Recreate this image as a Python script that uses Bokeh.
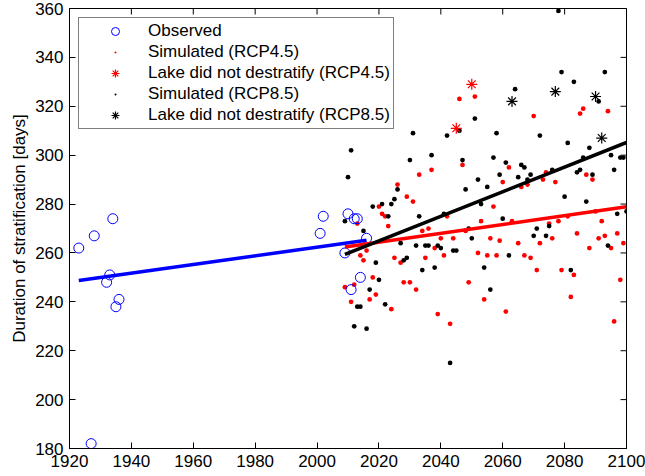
import math
from bokeh.plotting import figure
from bokeh.models import Range1d, FixedTicker, Legend, LegendItem
from bokeh.embed import file_html
from bokeh.resources import INLINE

# ---------------- data ----------------
obs_years = [1923, 1927, 1928, 1932, 1933, 1934, 1935, 1936, 2001, 2002,
             2009, 2010, 2011, 2012, 2013, 2014, 2016]
obs_days = [262, 182, 267, 248, 251, 274, 238, 241, 268, 275,
            260, 276, 245, 274, 274, 250, 266]

rcp45_years = [2009, 2011, 2012, 2013, 2014, 2015, 2016, 2017, 2018, 2019,
               2020, 2021, 2022, 2023, 2024, 2025, 2026, 2027, 2028, 2029,
               2030, 2031, 2032, 2033, 2034, 2035, 2036, 2037, 2038, 2039,
               2040, 2041, 2042, 2043, 2044,
               2046, 2047, 2048, 2049,
               2051, 2052, 2053, 2054, 2055, 2056, 2057, 2058, 2059, 2060,
               2061, 2062, 2063,
               2065, 2066, 2067, 2068, 2069, 2070, 2071, 2072, 2073, 2074,
               2075, 2076, 2077, 2078, 2079,
               2081, 2082, 2083, 2084, 2085, 2086, 2087, 2088, 2089, 2090,
               2091, 2092, 2093, 2094, 2095, 2096, 2097, 2098, 2099]
rcp45_days = [246, 240, 247, 272, 259, 257, 261, 241, 250, 243,
              279, 276, 275, 271, 237, 258, 288, 256, 248, 283,
              248, 281, 245, 292, 269, 258, 270, 294, 262, 235,
              266, 259, 275, 231, 266,
              323, 296, 269, 248,
              324, 260, 273, 241, 259, 266, 279, 259, 265, 289,
              236, 295, 273,
              264, 287, 259, 288, 258, 316, 253, 264, 290, 293,
              272, 266, 289, 273, 253,
              275, 242, 251, 268, 317, 319, 292, 262, 290, 277,
              266, 273, 267, 318, 262, 232, 268, 249, 264]

rcp45_nodestrat_years = [2045, 2050]
rcp45_nodestrat_days = [311, 329]

rcp85_years = [2009, 2010, 2011, 2012, 2013, 2014, 2015, 2016, 2017, 2018,
               2019, 2020, 2021, 2022, 2023, 2024, 2025, 2026, 2027, 2028,
               2029, 2030, 2031, 2032, 2033, 2034, 2035, 2036, 2037, 2038,
               2039, 2040, 2041, 2042, 2043, 2044, 2045, 2046, 2047, 2048,
               2049, 2050, 2051, 2052, 2053, 2054, 2055, 2056, 2057, 2058,
               2059, 2060, 2061, 2062,
               2064, 2065, 2066, 2067, 2068, 2069, 2070, 2071, 2072,
               2074, 2075, 2076,
               2078, 2079, 2080, 2081, 2082, 2083, 2084, 2085, 2086, 2087,
               2088, 2089,
               2091,
               2093, 2094, 2095, 2096, 2097, 2098, 2099, 2100]
rcp85_days = [273, 291, 302, 230, 238, 238, 269, 229, 245, 279,
              256, 249, 280, 239, 275, 280, 282, 286, 264, 257,
              258, 298, 309, 263, 275, 253, 263, 263, 300, 254,
              263, 262, 276, 308, 215, 261, 261, 310, 298, 286,
              270, 266, 315, 290, 280, 254, 287, 245, 299, 309,
              292, 274, 297, 259,
              327, 291, 296, 295, 290, 292, 267, 270, 308,
              267, 271, 294,
              359, 334, 283, 305, 253, 330, 293, 294, 299, 281,
              303, 292,
              322,
              334, 263, 300, 294, 276, 299, 299, 277]

rcp85_nodestrat_years = [2063, 2077, 2090, 2092]
rcp85_nodestrat_days = [322, 326, 324, 307]

# fitted trend lines (end points)
obs_trend_years = [1923, 2016]
obs_trend_days = [248.7, 265.2]
rcp45_trend_years = [2009, 2100]
rcp45_trend_days = [262.4, 278.9]
rcp85_trend_years = [2009, 2100]
rcp85_trend_days = [259.4, 305.2]

x_ticks = list(range(1920, 2101, 20))
y_ticks = list(range(180, 361, 20))
x_min, x_max = 1920, 2100
y_min, y_max = 180, 360

# ---------------- figure ----------------
FONT = "Liberation Sans"
FS = "17px"

p = figure(width=645, height=476, output_backend="svg", toolbar_location=None,
           x_range=Range1d(x_min, x_max), y_range=Range1d(y_min, y_max),
           min_border_left=69, min_border_right=19, min_border_top=8,
           min_border_bottom=28, background_fill_color="white",
           border_fill_color="white")
p.xgrid.visible = False
p.ygrid.visible = False
p.outline_line_color = "black"
p.outline_line_width = 1

for ax, ticks in ((p.xaxis[0], x_ticks), (p.yaxis[0], y_ticks)):
    ax.ticker = FixedTicker(ticks=ticks)
    ax.major_tick_in = 6
    ax.major_tick_out = 0
    ax.minor_tick_line_color = None
    ax.axis_line_color = "black"
    ax.axis_line_width = 1
    ax.major_tick_line_color = "black"
    ax.major_label_text_font = FONT
    ax.major_label_text_font_size = FS
    ax.major_label_text_color = "black"
    ax.major_label_standoff = 6

p.yaxis[0].axis_label = "Duration of stratification [days]"
p.yaxis[0].axis_label_text_font = FONT
p.yaxis[0].axis_label_text_font_size = FS
p.yaxis[0].axis_label_text_font_style = "normal"
p.yaxis[0].axis_label_text_color = "black"
p.yaxis[0].axis_label_standoff = 3

# inward tick marks on the top and right edges of the box (clipped to frame)
p.scatter(x_ticks, [y_max] * len(x_ticks), marker="dash", size=12,
          angle=math.pi / 2, line_color="black", line_width=1)
p.scatter([x_max] * len(y_ticks), y_ticks, marker="dash", size=12,
          line_color="black", line_width=1)

# simulated dots
r45 = p.scatter(rcp45_years, rcp45_days, marker="dot", size=19,
                line_color="#ff0000", fill_color="#ff0000")
r85 = p.scatter(rcp85_years, rcp85_days, marker="dot", size=19,
                line_color="black", fill_color="black")
r45s = p.scatter(rcp45_nodestrat_years, rcp45_nodestrat_days, marker="asterisk",
                 size=11, line_color="#ff0000", line_width=1.2)
r85s = p.scatter(rcp85_nodestrat_years, rcp85_nodestrat_days, marker="asterisk",
                 size=11, line_color="black", line_width=1.2)
robs = p.scatter(obs_years, obs_days, marker="circle", size=10,
                 line_color="#0000ff", fill_color=None, line_width=1)

# trend lines
p.line(obs_trend_years, obs_trend_days, line_color="#0000ff", line_width=3.5)
p.line(rcp45_trend_years, rcp45_trend_days, line_color="#ff0000", line_width=3.5)
p.line(rcp85_trend_years, rcp85_trend_days, line_color="black", line_width=3.5)

legend = Legend(items=[
    LegendItem(label="Observed", renderers=[robs]),
    LegendItem(label="Simulated (RCP4.5)", renderers=[r45]),
    LegendItem(label="Lake did not destratify (RCP4.5)", renderers=[r45s]),
    LegendItem(label="Simulated (RCP8.5)", renderers=[r85]),
    LegendItem(label="Lake did not destratify (RCP8.5)", renderers=[r85s]),
], location="top_left")
legend.margin = 9
legend.padding = 3
legend.spacing = 1
legend.label_height = 20
legend.glyph_height = 20
legend.glyph_width = 66
legend.label_standoff = 0
legend.label_text_font = FONT
legend.label_text_font_size = FS
legend.label_text_color = "black"
legend.border_line_color = "black"
legend.border_line_width = 1
legend.background_fill_color = "white"
legend.background_fill_alpha = 1
p.add_layout(legend)

open("out.html", "w").write(file_html(p, INLINE))
